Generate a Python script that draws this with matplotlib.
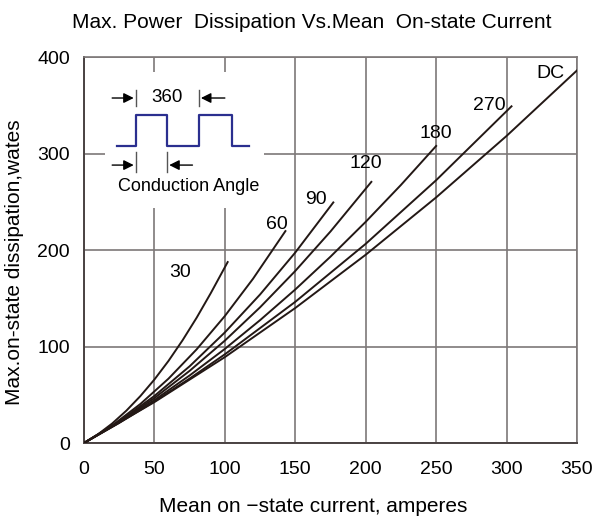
import matplotlib
matplotlib.use("Agg")
import matplotlib.pyplot as plt
from matplotlib.patches import Rectangle

plt.rcParams['font.family'] = ['Liberation Sans', 'DejaVu Sans']

# ---- data ----
angles = ["30", "60", "90", "120", "180", "270", "DC"]

x30 = [0, 10, 20, 30, 40, 50, 60, 70, 80, 90, 102]
y30 = [0, 9.1, 20.2, 33.4, 48.6, 65.8, 85.1, 106.5, 129.9, 155.3, 187.5]

x60 = [0, 20, 40, 60, 80, 100, 120, 143]
y60 = [0, 18.1, 40.4, 66.7, 97.1, 131.6, 170.2, 219.6]

x90 = [0, 25, 50, 75, 100, 125, 150, 177]
y90 = [0, 22.3, 48.8, 79.5, 114.6, 153.9, 197.4, 249.3]

x120 = [0, 25, 50, 75, 100, 125, 150, 175, 204]
y120 = [0, 21.7, 46.6, 74.8, 106.1, 140.6, 178.3, 219.2, 270.6]

x180 = [0, 25, 50, 75, 100, 125, 150, 175, 200, 225, 250]
y180 = [0, 21.2, 44.5, 70.0, 97.5, 127.3, 159.1, 193.1, 229.2, 267.4, 307.8]

x270 = [0, 25, 50, 75, 100, 150, 200, 250, 303.5]
y270 = [0, 20.8, 43.1, 66.8, 91.9, 146.3, 206.4, 272.3, 348.9]

xdc = [0, 50, 100, 150, 200, 250, 300, 350]
ydc = [0, 42.4, 89.0, 139.9, 195.1, 254.5, 318.2, 386.1]

series_x = [x30, x60, x90, x120, x180, x270, xdc]
series_y = [y30, y60, y90, y120, y180, y270, ydc]

# label anchor positions (data coords)
label_x = [68, 137, 164.5, 200, 249.6, 288, 331]
label_y = [177, 226, 252, 290, 321, 350, 383]

xticks = [0, 50, 100, 150, 200, 250, 300, 350]
yticks = [0, 100, 200, 300, 400]

title = "Max. Power  Dissipation Vs.Mean  On-state Current"
xlabel = "Mean on \u2212state current, amperes"
ylabel = "Max.on-state dissipation,wates"

# ---- figure ----
fig = plt.figure(figsize=(5.97, 5.30), dpi=100)
ax = fig.add_axes([84/597, 1-443/530, (577-84)/597, (443-57)/530])

line_col = "#231815"
grid_col = "#7d7878"
spine_col = "#4a4242"

ax.set_xlim(0, 350)
ax.set_ylim(0, 400)
ax.set_xticks(xticks)
ax.set_yticks(yticks)
ax.tick_params(length=0, labelsize=14, pad=10, colors="black")
ax.tick_params(axis="x", pad=13)
ax.grid(True, color=grid_col, linewidth=1.2)
ax.set_axisbelow(True)
for s in ["top", "right"]:
    ax.spines[s].set_color(grid_col)
    ax.spines[s].set_linewidth(1.2)
for s in ["left", "bottom"]:
    ax.spines[s].set_color(spine_col)
    ax.spines[s].set_linewidth(1.4)

for xs, ys in zip(series_x, series_y):
    ax.plot(xs, ys, color=line_col, linewidth=1.4, zorder=3,
            solid_joinstyle="round")

for lab, lx, ly in zip(angles, label_x, label_y):
    ax.text(lx, ly, lab, fontsize=14, ha="center", va="center", zorder=4)

# inset: conduction angle illustration
ax.add_patch(Rectangle((15, 244), 113, 140, facecolor="white",
                       edgecolor="none", zorder=1))
wave_x = [23.2, 36.7, 36.7, 59.1, 59.1, 81.6, 81.6, 104.8, 104.8, 117.3]
wave_y = [307.3, 307.3, 339.4, 339.4, 307.3, 307.3, 339.4, 339.4, 307.3, 307.3]
ax.plot(wave_x, wave_y, color="#2b2f8f", linewidth=1.6, zorder=3)

# top dimension (360)
ax.plot([36.7, 36.7], [349, 366], color="#555555", linewidth=1.0, zorder=3)
ax.plot([81.6, 81.6], [349, 366], color="#555555", linewidth=1.0, zorder=3)
arrow_kw = dict(arrowstyle="-|>,head_length=0.6,head_width=0.3",
                color="black", linewidth=1.0, shrinkA=0, shrinkB=0)
ax.annotate("", xy=(35.3, 357.5), xytext=(20, 357.5), arrowprops=arrow_kw, zorder=3)
ax.annotate("", xy=(83.0, 357.5), xytext=(100, 357.5), arrowprops=arrow_kw, zorder=3)
ax.text(59, 358, "360", fontsize=13.5, ha="center", va="center", zorder=4)

# bottom dimension (conduction angle)
ax.plot([36.7, 36.7], [281, 302], color="#555555", linewidth=1.0, zorder=3)
ax.plot([59.1, 59.1], [281, 302], color="#555555", linewidth=1.0, zorder=3)
ax.annotate("", xy=(35.3, 288), xytext=(20, 288), arrowprops=arrow_kw, zorder=3)
ax.annotate("", xy=(60.5, 288), xytext=(77, 288), arrowprops=arrow_kw, zorder=3)
ax.text(74, 265.5, "Conduction Angle", fontsize=13, ha="center", va="center", zorder=4)

fig.text(312/597, 1-22/530, title, fontsize=15, ha="center", va="center")
fig.text(313/597, 1-507/530, xlabel, fontsize=15, ha="center", va="center")
fig.text(15/597, 1-262/530, ylabel, fontsize=15, ha="center", va="center",
         rotation=90)

fig.savefig("out.png", dpi=100)
